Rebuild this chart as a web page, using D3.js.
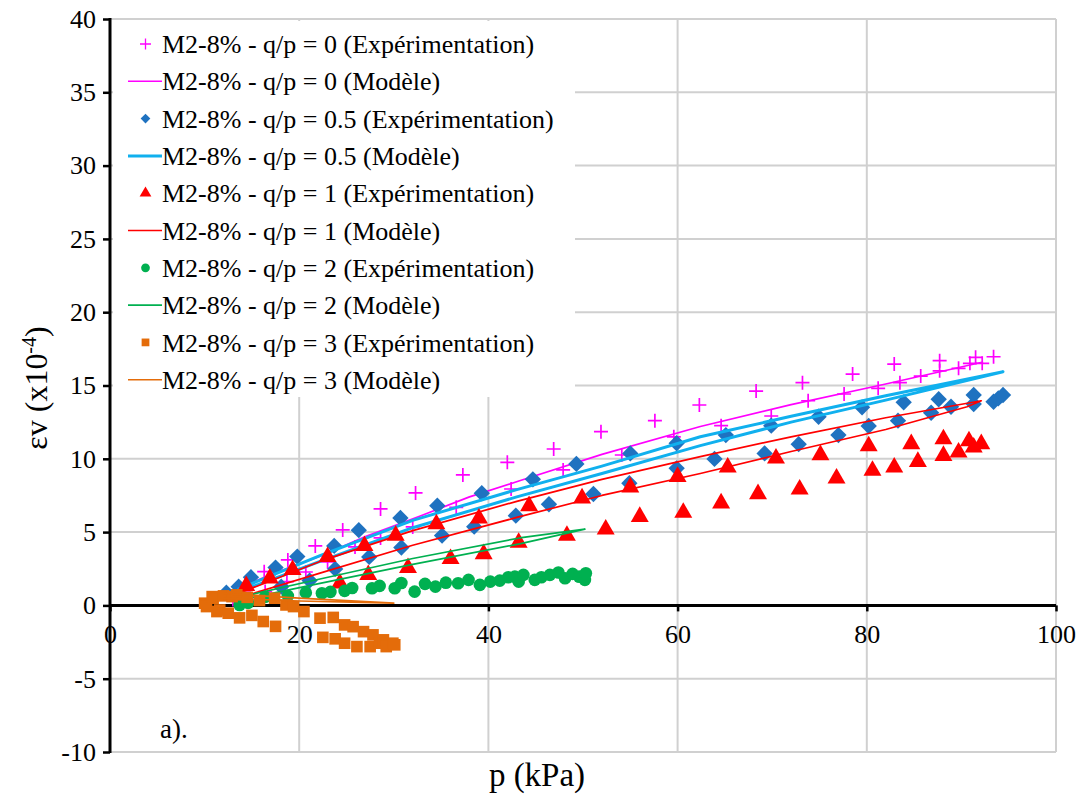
<!DOCTYPE html>
<html><head><meta charset="utf-8">
<script src="https://cdn.jsdelivr.net/npm/d3@7"></script>
<style>body{margin:0;background:#fff}</style>
</head><body>
<svg id="c" width="1083" height="796"></svg>
<script>
// ---------- data ----------
const xTicks = [0, 20, 40, 60, 80, 100];
const yTicks = [-10, -5, 0, 5, 10, 15, 20, 25, 30, 35, 40];
const legendLabels = [
  "M2-8% - q/p = 0 (Expérimentation)",
  "M2-8% - q/p = 0 (Modèle)",
  "M2-8% - q/p = 0.5 (Expérimentation)",
  "M2-8% - q/p = 0.5 (Modèle)",
  "M2-8% - q/p = 1 (Expérimentation)",
  "M2-8% - q/p = 1 (Modèle)",
  "M2-8% - q/p = 2 (Expérimentation)",
  "M2-8% - q/p = 2 (Modèle)",
  "M2-8% - q/p = 3 (Expérimentation)",
  "M2-8% - q/p = 3 (Modèle)"
];
// [p (kPa), εv (x10^-4)]
const exp0 = [[13.0,0.4],[14.2,0.9],[16.4,0.94],[16.3,2.3],[18.7,1.62],[18.8,3.1],[20.7,2.28],[21.7,4.06],[23.0,2.97],[24.6,5.15],[25.9,3.99],[28.6,6.58],[28.6,4.6],[32.0,5.35],[32.3,7.67],[36.6,6.69],[37.3,8.9],[42.0,9.76],[42.4,7.94],[46.9,10.67],[47.9,9.24],[51.9,11.85],[54.1,10.26],[57.6,12.6],[59.6,11.5],[62.3,13.67],[64.6,12.26],[68.3,14.62],[69.9,12.92],[73.2,15.19],[73.8,13.96],[77.6,14.42],[78.5,15.78],[81.2,14.81],[82.9,16.46],[83.5,15.19],[85.7,15.64],[87.7,16.69],[87.7,16.0],[89.7,16.17],[90.9,16.51],[91.5,16.92],[92.2,16.51],[93.4,16.96]];
const mod0 = [[13,1.0],[17,2.1],[22.2,3.35],[27,4.7],[32.8,6.1],[38,7.4],[43.3,8.5],[52,10.3],[62.4,12.2],[72,13.7],[82,15.1],[92.3,16.6]];
const exp05 = [[12.3,0.87],[13.6,1.28],[14.9,1.92],[17.5,2.58],[18.1,1.28],[19.8,3.33],[21.1,1.69],[23.7,4.06],[23.8,2.49],[26.3,5.13],[27.4,3.31],[30.7,5.97],[30.8,3.95],[34.6,6.8],[35.1,4.76],[38.5,5.37],[39.3,7.65],[42.9,6.12],[44.7,8.6],[46.4,6.9],[49.3,9.65],[51.1,7.6],[54.9,8.33],[55.0,10.37],[59.9,11.06],[59.9,9.35],[63.9,9.99],[65.1,11.62],[69.2,10.37],[69.9,12.26],[72.8,11.0],[74.9,12.87],[77.0,11.62],[79.5,13.51],[80.2,12.24],[83.3,12.6],[83.9,13.85],[86.8,13.14],[87.6,14.06],[88.9,13.55],[91.3,13.74],[91.3,14.35],[93.4,13.89],[93.9,14.12],[94.4,14.35]];
const mod05 = [[13.5,1.1],[22.2,3.4],[32,5.8],[43,7.9],[52,9.5],[62.4,11.5],[72,12.9],[82,14.3],[94.4,15.94],[82,14.0],[72,12.5],[62.4,10.9],[52,9.0],[43,7.4],[32,5.3],[22.2,3.0],[13.5,0.9]];
const exp1 = [[14.4,1.33],[16.9,1.85],[19.3,2.42],[23.0,3.31],[24.3,1.5],[26.9,4.06],[27.3,2.08],[30.2,4.77],[31.5,2.56],[34.5,5.54],[36.0,3.17],[39.0,5.94],[39.5,3.51],[43.2,4.28],[44.3,6.78],[48.3,4.76],[49.9,7.31],[52.4,5.19],[55.0,8.06],[56.0,6.05],[60.0,8.78],[60.6,6.33],[64.6,6.97],[65.3,9.42],[68.5,7.6],[70.4,10.03],[72.9,7.92],[75.1,10.26],[76.8,8.67],[80.2,10.87],[80.6,9.19],[82.9,9.42],[84.7,11.01],[85.4,9.8],[88.1,11.35],[88.1,10.21],[89.7,10.44],[90.8,11.21],[91.3,10.78],[92.1,11.01]];
const mod1 = [[13.5,0.8],[22.2,3.0],[32,5.1],[43,7.1],[52,8.6],[62.4,10.15],[72,11.5],[82,12.8],[92.1,13.96],[90.6,13.55],[82,12.0],[72,10.5],[62.4,9.0],[52,7.5],[43,6.0],[32,4.1],[22.2,2.2],[13.5,0.5]];
const exp2 = [[13.7,0.03],[14.6,0.17],[16.4,0.58],[18.8,0.65],[20.7,0.87],[22.4,0.83],[23.3,0.92],[24.8,0.99],[25.6,1.19],[27.7,1.17],[28.5,1.33],[30.1,1.17],[30.8,1.53],[32.2,0.94],[33.3,1.47],[34.4,1.28],[35.5,1.55],[36.8,1.51],[37.9,1.74],[39.1,1.4],[40.2,1.62],[41.2,1.69],[42.1,1.92],[42.8,1.96],[43.2,1.62],[43.7,2.08],[44.9,1.74],[45.6,1.92],[46.5,2.08],[47.4,2.24],[48.1,1.85],[48.9,2.15],[49.6,1.96],[50.2,1.74],[50.3,2.19]];
const mod2 = [[14,0.6],[22.2,1.8],[32,3.2],[43.3,4.6],[50.2,5.2],[43.3,4.2],[32,2.8],[22.2,1.5],[14,0.4]];
const exp3 = [[10.0,0.15],[10.2,-0.08],[10.8,0.6],[10.9,0.49],[11.3,-0.42],[11.6,-0.31],[12.0,0.65],[12.5,-0.53],[12.9,0.6],[13.4,0.72],[13.7,-0.85],[14.5,0.55],[15.0,-0.68],[15.8,0.33],[16.2,-1.1],[17.4,0.49],[17.5,-1.43],[18.6,0.03],[19.4,-0.08],[20.5,-0.42],[22.2,-0.87],[22.5,-2.18],[23.6,-0.82],[23.8,-2.28],[24.8,-1.33],[24.8,-2.58],[25.7,-1.45],[26.1,-2.81],[26.8,-1.79],[27.5,-2.81],[27.8,-2.01],[28.5,-2.58],[28.9,-2.35],[29.2,-2.81],[29.9,-2.58],[30.1,-2.69]];
const mod3 = [[12,0.8],[20,0.5],[30,0.15],[20,0.3],[12,0.5]];

// ---------- layout ----------
const FONT = "'Liberation Serif', 'Times New Roman', Tinos, serif";
const svg = d3.select("#c");
svg.append("rect").attr("width",1083).attr("height",796).attr("fill","#fff");
const x = d3.scaleLinear().domain([0,100]).range([110,1056]);
const y = d3.scaleLinear().domain([-10,40]).range([752,19]);
const grid = "#d0d0d0";

// grid
svg.append("g").selectAll("line").data(yTicks).join("line")
  .attr("x1",x(0)).attr("x2",x(100)).attr("y1",d=>y(d)).attr("y2",d=>y(d))
  .attr("stroke",grid).attr("stroke-width",2);
svg.append("g").selectAll("line").data(xTicks.slice(1)).join("line")
  .attr("x1",d=>x(d)).attr("x2",d=>x(d)).attr("y1",y(40)).attr("y2",y(-10))
  .attr("stroke",grid).attr("stroke-width",2);

// axes
const yAxis = svg.append("g").attr("transform",`translate(${x(0)},0)`)
  .call(d3.axisLeft(y).tickValues(yTicks).tickSize(7).tickPadding(7).tickFormat(d=>d));
const xAxis = svg.append("g").attr("transform",`translate(0,${y(0)})`)
  .call(d3.axisBottom(x).tickValues(xTicks).tickSize(6).tickPadding(13).tickFormat(d=>d));
[yAxis,xAxis].forEach(a=>{
  a.select(".domain").remove();
  a.selectAll(".tick line").attr("stroke","#000").attr("stroke-width",2.5);
  a.selectAll("text").attr("fill","#000").style("font-family",FONT).style("font-size","26px");
});
svg.append("line").attr("x1",x(0)).attr("x2",x(0)).attr("y1",y(40)-1).attr("y2",y(-10)+1).attr("stroke","#000").attr("stroke-width",3);
svg.append("line").attr("x1",x(0)).attr("x2",x(100)).attr("y1",y(0)).attr("y2",y(0)).attr("stroke","#000").attr("stroke-width",3);

// marks
function drawPlus(g, data, color, s){
  g.selectAll("path").data(data).join("path")
    .attr("d",d=>`M${x(d[0])-s},${y(d[1])}H${x(d[0])+s}M${x(d[0])},${y(d[1])-s}V${y(d[1])+s}`)
    .attr("stroke",color).attr("stroke-width",1.7).attr("fill","none");
}
function drawSym(g, data, type, size, color){
  g.selectAll("path").data(data).join("path")
    .attr("d",d3.symbol().type(type).size(size))
    .attr("transform",d=>`translate(${x(d[0])},${y(d[1])})`)
    .attr("fill",color);
}
const line = d3.line().x(d=>x(d[0])).y(d=>y(d[1]));
function drawLine(g, data, color, w){
  g.append("path").datum(data).attr("d",line).attr("fill","none").attr("stroke",color).attr("stroke-width",w).attr("stroke-linejoin","round");
}
const cMag="#ff00ff", cBlue="#1f72c0", cCyan="#10b0ee", cRed="#ff0000", cGreen="#00b050", cOr="#e46c0a";
const plot = svg.append("g");
drawPlus(plot.append("g"), exp0, cMag, 7);
drawLine(plot, mod0, cMag, 1.7);
drawSym(plot.append("g"), exp05, d3.symbolDiamond2, 170, cBlue);
drawLine(plot, mod05, cCyan, 3);
drawSym(plot.append("g"), exp1, d3.symbolTriangle, 140, cRed);
drawLine(plot, mod1, cRed, 1.7);
drawSym(plot.append("g"), exp2, d3.symbolCircle, 125, cGreen);
drawLine(plot, mod2, cGreen, 1.7);
drawSym(plot.append("g"), exp3, d3.symbolSquare, 135, cOr);
drawLine(plot, mod3, cOr, 1.7);

// legend
svg.append("rect").attr("x",113).attr("y",21).attr("width",462).attr("height",376).attr("fill","#fff");
const leg = svg.append("g");
const legKinds = [["plus",cMag],["line",cMag,1.6],["sym",cBlue,d3.symbolDiamond2],["line",cCyan,3],["sym",cRed,d3.symbolTriangle],["line",cRed,1.6],["sym",cGreen,d3.symbolCircle],["line",cGreen,1.6],["sym",cOr,d3.symbolSquare],["line",cOr,1.6]];
legendLabels.forEach((t,i)=>{
  const yy = 44 + i*37.3;
  const k = legKinds[i];
  if(k[0]==="plus"){
    leg.append("path").attr("d",`M140,${yy}h11M145.5,${yy-5.5}v11`).attr("stroke",k[1]).attr("stroke-width",1.3);
  } else if(k[0]==="line"){
    leg.append("line").attr("x1",128).attr("x2",162).attr("y1",yy).attr("y2",yy).attr("stroke",k[1]).attr("stroke-width",k[2]);
  } else {
    leg.append("path").attr("d",d3.symbol().type(k[2]).size(60)).attr("transform",`translate(145.5,${yy})`).attr("fill",k[1]);
  }
  leg.append("text").attr("x",162).attr("y",yy).attr("dy","0.35em").attr("fill","#000")
    .style("font-family",FONT).style("font-size","26px").text(t);
});

// titles
svg.append("text").attr("x",537).attr("y",786).attr("text-anchor","middle")
  .style("font-family",FONT).style("font-size","33px").text("p (kPa)");
const yt = svg.append("text").attr("transform","translate(47,388) rotate(-90)").attr("text-anchor","middle")
  .style("font-family",FONT).style("font-size","32px");
yt.append("tspan").text("εv (x10");
yt.append("tspan").attr("baseline-shift","super").style("font-size","20px").text("-4");
yt.append("tspan").text(")");
svg.append("text").attr("x",160).attr("y",738).style("font-family",FONT).style("font-size","27px").text("a).");
</script>
</body></html>
